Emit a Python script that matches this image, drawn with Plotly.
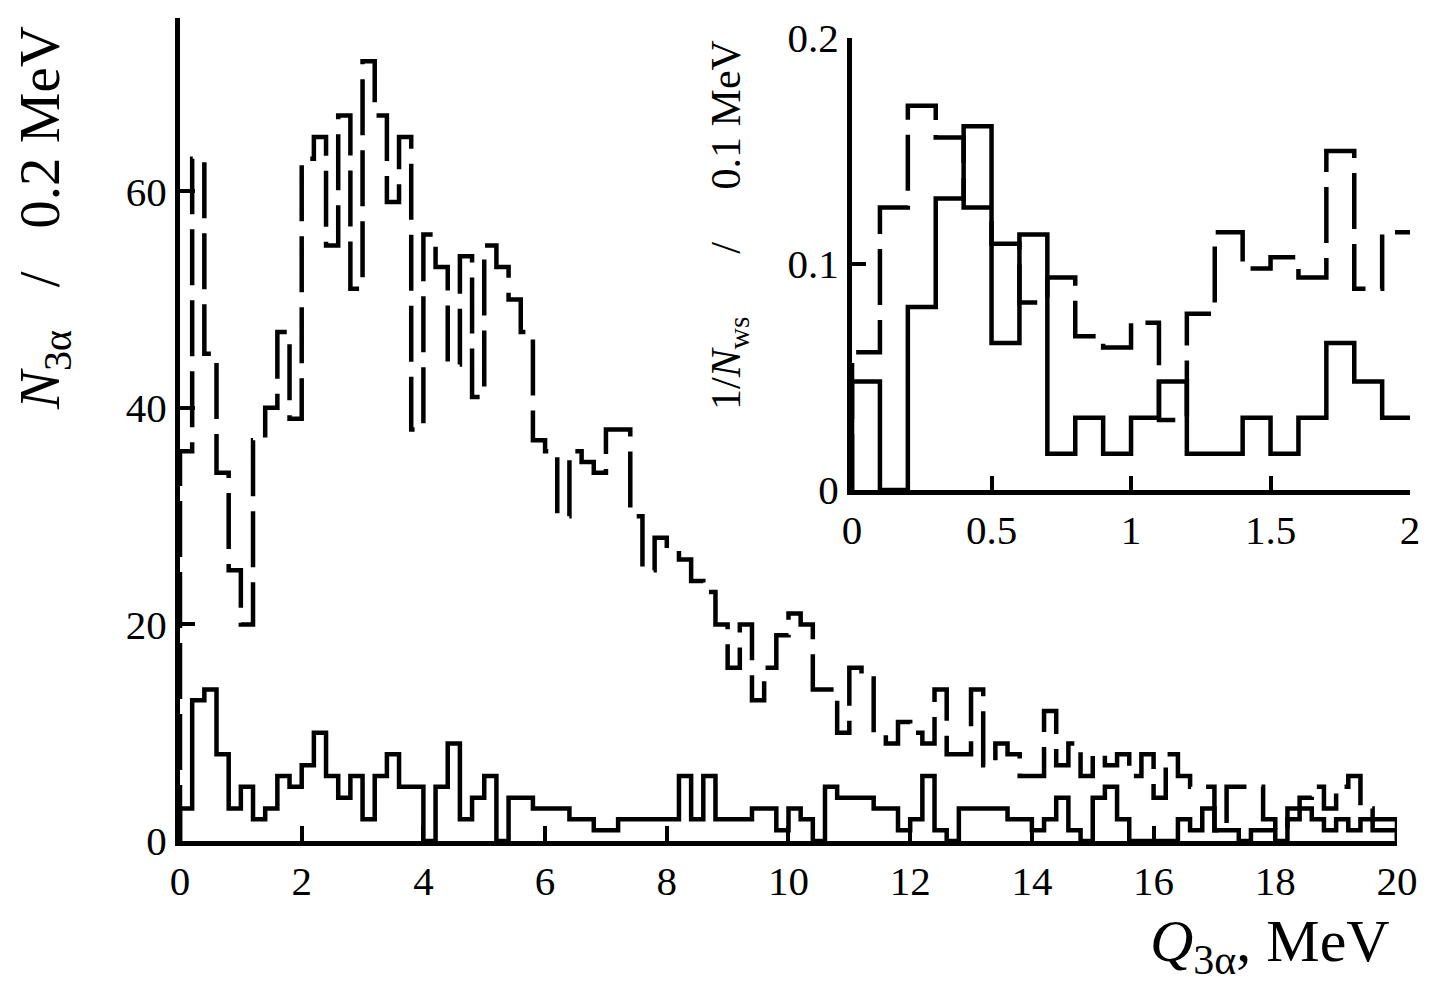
import numpy as np
import plotly.graph_objects as go

# main histogram: 0.2 MeV bins over 0..20 MeV
main_edges = np.round(np.arange(0, 20.0001, 0.2), 1)
n_all = [36, 63, 45, 34, 25, 20, 37, 40, 47, 39,
         63, 65, 55, 67, 51, 72, 67, 59, 65, 38,
         56, 53, 44, 54, 41, 55, 53, 50, 47, 37,
         36, 30, 36, 35, 34, 38, 38, 30, 25, 28,
         27, 26, 24, 23, 20, 16, 20, 13, 16, 19,
         21, 20, 14, 14, 10, 16, 15, 10, 9, 11,
         10, 9, 14, 8, 8, 14, 7, 9, 8, 6,
         6, 12, 7, 9, 6, 8, 7, 8, 6, 8,
         4, 8, 6, 5, 5, 1, 5, 5, 5, 2,
         1, 3, 4, 5, 3, 5, 6, 3, 2, 2]
n_sel = [3, 13, 14, 8, 3, 5, 2, 3, 6, 5,
         7, 10, 6, 4, 6, 2, 6, 8, 5, 5,
         0, 5, 9, 2, 4, 6, 0, 4, 4, 3,
         3, 3, 2, 2, 1, 1, 2, 2, 2, 2,
         2, 6, 2, 6, 2, 2, 2, 3, 3, 1,
         3, 2, 0, 5, 4, 4, 4, 3, 3, 1,
         2, 6, 1, 0, 3, 3, 3, 3, 2, 2,
         1, 2, 4, 1, 0, 4, 5, 2, 0, 0,
         0, 0, 2, 1, 3, 1, 1, 0, 1, 1,
         0, 2, 3, 2, 1, 2, 1, 2, 1, 1]

# inset: 0.1 MeV bins over 0..2 MeV, normalised
inset_edges = np.round(np.arange(0, 2.0001, 0.1), 1)
w_all = [0.061, 0.125, 0.170, 0.156, 0.125, 0.109, 0.083, 0.094, 0.068, 0.063,
         0.074, 0.031, 0.078, 0.114, 0.098, 0.103, 0.094, 0.150, 0.089, 0.114]
w_sel = [0.048, 0.0, 0.081, 0.129, 0.161, 0.065, 0.113, 0.016, 0.032, 0.016,
         0.032, 0.048, 0.016, 0.016, 0.032, 0.016, 0.032, 0.065, 0.048, 0.032]

main_ticks = list(range(0, 21, 2))
FONT = "Liberation Serif"
DASH = "56px,15px"


def step_xy(edges, vals, close=True):
    x = [edges[0]] + list(edges[:-1]) + [edges[-1]]
    y = [0] + list(vals) + [0 if close else vals[-1]]
    return x, y


fig = go.Figure()

for vals, dash in [(n_all, DASH), (n_sel, "solid")]:
    x, y = step_xy(main_edges, vals)
    fig.add_trace(go.Scatter(x=x, y=y, mode="lines", xaxis="x", yaxis="y",
                             line=dict(shape="hv", color="black", width=4.5, dash=dash)))

for vals, dash in [(w_all, DASH), (w_sel, "solid")]:
    x, y = step_xy(inset_edges, vals, close=False)
    fig.add_trace(go.Scatter(x=x, y=y, mode="lines", xaxis="x2", yaxis="y2",
                             line=dict(shape="hv", color="black", width=4.5, dash=dash)))

axis_style = dict(showline=True, linewidth=5, linecolor="black", ticks="inside",
                  tickwidth=4, tickcolor="black", showgrid=False, zeroline=False,
                  automargin=False, ticklabeloverflow="allow",
                  tickfont=dict(family=FONT, size=41, color="black"))

fig.update_layout(
    width=1434, height=989,
    margin=dict(l=180, r=20, t=18, b=148, autoexpand=False),
    plot_bgcolor="white", paper_bgcolor="white",
    showlegend=False,
    font=dict(family=FONT, color="black"),
    xaxis=dict(domain=[0, 0.9862], range=[0, 20], tickvals=main_ticks,
               ticklen=15, anchor="y", **axis_style),
    yaxis=dict(domain=[0, 1], range=[0, 76], tickvals=[0, 20, 40, 60],
               ticklen=15, anchor="x", **axis_style),
    xaxis2=dict(domain=[0.5446, 0.9968], range=[0, 2], tickvals=[0, 0.5, 1, 1.5, 2],
                ticktext=["0", "0.5", "1", "1.5", "2"], ticklen=14, anchor="y2", **axis_style),
    yaxis2=dict(domain=[0.4265, 0.9757], range=[0, 0.2], tickvals=[0, 0.1, 0.2],
                ticktext=["0", "0.1", "0.2"], ticklen=14, anchor="x2", **axis_style),
)

sp = "\u00a0"
fig.add_annotation(text="<i>Q</i><sub>3α</sub>, MeV", xref="paper", yref="paper",
                   x=0.982, y=-0.1264, xanchor="right", yanchor="middle", showarrow=False,
                   font=dict(family=FONT, size=60, color="black"))
fig.add_annotation(text="<i>N</i><sub>3α</sub>" + sp * 3 + "/" + sp * 3 + "0.2 MeV",
                   xref="paper", yref="paper", x=-0.1102, y=0.757,
                   textangle=-90, xanchor="center", yanchor="middle", showarrow=False,
                   font=dict(family=FONT, size=57, color="black"))
fig.add_annotation(text="1/<i>N</i><sub>ws</sub>" + sp * 6 + "/" + sp * 5 + "0.1 MeV",
                   xref="paper", yref="paper", x=0.4449, y=0.7485,
                   textangle=-90, xanchor="center", yanchor="middle", showarrow=False,
                   font=dict(family=FONT, size=42, color="black"))

# drop the browser's default page margin so the figure sits at the window origin
fig.write_html("out.html", config={"displayModeBar": False},
               post_script="document.body.style.margin='0';")
